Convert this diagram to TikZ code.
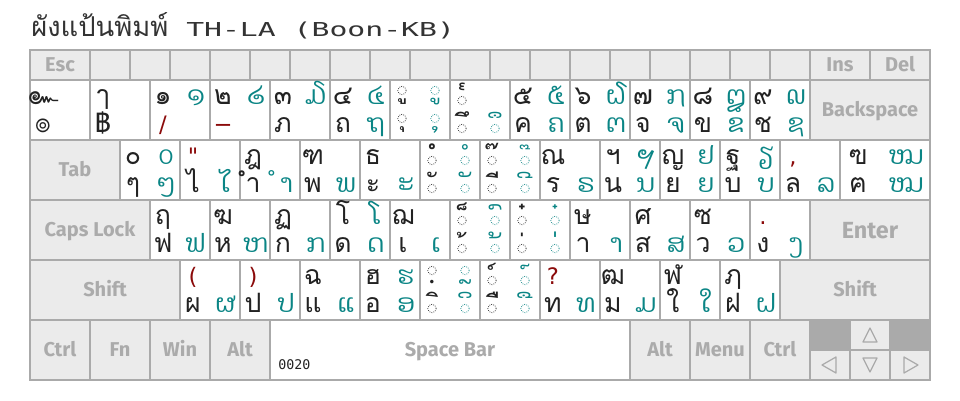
\documentclass[tikz,border=0pt]{standalone}
\usepackage{fontspec}
\setsansfont{Fira Sans}
\newfontfamily\thaifont[Script=Thai]{Loma}
\newfontfamily\laofont[Script=Lao]{Dhyana}
\newfontfamily\symfont{DejaVu Sans}
\newfontfamily\codefont{DejaVu Sans Mono}

\definecolor{keyline}{HTML}{AAAAAA}
\definecolor{keyfill}{HTML}{EBEBEB}
\definecolor{keytext}{HTML}{ABABAB}
\definecolor{inkc}{HTML}{222222}
\definecolor{titlec}{HTML}{333333}
\definecolor{laoteal}{HTML}{0A8585}
\definecolor{punc}{HTML}{8B0A0A}
\definecolor{laogreen}{HTML}{2E9A2E}
\definecolor{darkcell}{HTML}{AAAAAA}

% a combining mark in a box as wide as its ink, ink centred on the baseline
\newcommand\inkmark[1]{%
  \edef\markgid{\the\XeTeXcharglyph`#1}%
  \hbox to \dimexpr\fontcharwd\font`#1-\XeTeXglyphbounds3 \markgid\space-\XeTeXglyphbounds1 \markgid\space\relax{\kern\dimexpr 0pt-\XeTeXglyphbounds1 \markgid\space\relax\lower\dimexpr(\XeTeXglyphbounds2 \markgid\space-\XeTeXglyphbounds4 \markgid\space)/2\relax\hbox{#1}\hss}}
\newcommand\pun[1]{\textcolor{punc}{\symfont\fontsize{17}{17}\selectfont#1}}

% keys
\newcommand\bkey[2]{\draw[charkey] (#1,#2) rectangle ++(60,60);}
\newcommand\glyphat[5]{\if\relax\detokenize{#5}\relax\else\node[#4] (#1) at (#2,#3) {#5};\fi}
\newcommand\tkey[6]{%
  \bkey{#1}{#2}%
  \glyphat{k#1-#2tl}{#1+13}{#2+24}{th}{#3}%
  \glyphat{k#1-#2tr}{#1+46}{#2+24}{lo}{#4}%
  \glyphat{k#1-#2bl}{#1+13}{#2+52}{th}{#5}%
  \glyphat{k#1-#2br}{#1+46}{#2+52}{lo}{#6}}
\newcommand\fkey[6]{%
  \draw[fnkey] (#1,#2) rectangle ++(#3,#4);
  \node[flabel] (#6) at (#1+#3/2,#2+#4/2) {#5};}
% mark above / below a dotted circle
\newcommand\upmk[4]{%
  \node[#4] (m-#1-#2) at (#1,#2-17) {\inkmark{#3}};
  \draw[dotc,#4] (#1,#2-3.5) circle (4.2);}
\newcommand\dnmk[4]{%
  \draw[dotc,#4] (#1,#2-13.5) circle (4.2);
  \node[#4] (m-#1-#2) at (#1,#2-2) {\inkmark{#3}};}

\begin{document}
\begin{tikzpicture}[x=0.75pt,y=-0.75pt,
  fnkey/.style={draw=keyline,line width=1.5pt,fill=keyfill},
  charkey/.style={draw=keyline,line width=1.5pt,fill=white},
  flabel/.style={font=\sffamily\bfseries\fontsize{15}{15}\selectfont,text=keytext,
    text height=10.3pt,text depth=0pt,inner sep=0pt},
  th/.style={font=\thaifont\fontsize{20}{20}\selectfont,color=inkc,anchor=base,inner sep=0pt},
  lo/.style={font=\laofont\fontsize{19}{19}\selectfont,color=laoteal,anchor=base,inner sep=0pt},
  dotc/.style={densely dotted,line width=0.55pt},
  arrowtri/.style={draw=keyline,line width=0.9pt,line join=round}]
  \useasboundingbox (0,0) rectangle (960,400);

  % title
  \node[anchor=base west,inner sep=0pt,text=titlec] (title) at (31,36)
    {{\thaifont\fontsize{20.5}{20.5}\selectfont ผังแป้นพิมพ์}\scalebox{1.55}[1]{\codefont\fontsize{14.4}{14.4}\selectfont\space TH-LA (Boon-KB)}};

  % function row
  \fkey{30}{50}{60}{30}{Esc}{esc}
  \foreach \x in {90,130,...,770}
    \draw[fnkey] (\x,50) rectangle ++(40,30);
  \fkey{810}{50}{60}{30}{Ins}{ins}
  \fkey{870}{50}{60}{30}{Del}{del}

  % number row
  \tkey{30}{80}{๛}{}{๏}{}
  \tkey{90}{80}{ๅ}{}{฿}{}
  \tkey{150}{80}{๑}{໑}{\pun{/}}{}
  \tkey{210}{80}{๒}{໒}{\pun{−}}{}
  \tkey{270}{80}{๓}{໓}{ภ}{}
  \tkey{330}{80}{๔}{໔}{ถ}{ຖ}
  \bkey{390}{80}
  \dnmk{402}{104}{ู}{th} \dnmk{435}{104}{ູ}{lo}
  \dnmk{402}{132}{ุ}{th} \dnmk{435}{132}{ຸ}{lo}
  \bkey{450}{80}
  \upmk{462}{104}{๎}{th}
  \upmk{462}{132}{ึ}{th} \upmk{495}{132}{ຶ}{lo}
  \tkey{510}{80}{๕}{໕}{ค}{ຄ}
  \tkey{570}{80}{๖}{໖}{ต}{ຕ}
  \tkey{630}{80}{๗}{໗}{จ}{ຈ}
  \tkey{690}{80}{๘}{໘}{ข}{ຂ}
  \tkey{750}{80}{๙}{໙}{ช}{ຊ}
  \fkey{810}{80}{120}{60}{Backspace}{bksp}

  % top letter row
  \fkey{30}{140}{90}{60}{Tab}{tab}
  \tkey{120}{140}{๐}{໐}{ๆ}{ໆ}
  \tkey{180}{140}{\pun{"}}{}{ไ}{ໄ}
  \tkey{240}{140}{ฎ}{}{ำ}{ຳ}
  \tkey{300}{140}{ฑ}{}{พ}{ພ}
  \tkey{360}{140}{ธ}{}{ะ}{ະ}
  \bkey{420}{140}
  \upmk{432}{164}{ํ}{th} \upmk{465}{164}{ໍ}{lo}
  \upmk{432}{192}{ั}{th} \upmk{465}{192}{ັ}{lo}
  \bkey{480}{140}
  \upmk{492}{164}{๊}{th} \upmk{525}{164}{໊}{lo}
  \upmk{492}{192}{ี}{th} \upmk{525}{192}{ີ}{lo}
  \tkey{540}{140}{ณ}{\textcolor{laogreen}{ຓ}}{ร}{ຣ}
  \tkey{600}{140}{ฯ}{ຯ}{น}{ນ}
  \tkey{660}{140}{ญ}{ຢ}{ย}{ຍ}
  \tkey{720}{140}{ฐ}{ຽ}{บ}{ບ}
  \tkey{780}{140}{\pun{,}}{}{ล}{ລ}
  \draw[charkey] (840,140) rectangle ++(90,60);
  \node[th] (k840-140tl) at (858,164) {ฃ};
  \node[lo] (k840-140tr) at (907,164) {ໝ};
  \node[th] (k840-140bl) at (858,192) {ฅ};
  \node[lo] (k840-140br) at (907,192) {ໝ};

  % home row
  \fkey{30}{200}{120}{60}{Caps Lock}{caps}
  \tkey{150}{200}{ฤ}{}{ฟ}{ຟ}
  \tkey{210}{200}{ฆ}{}{ห}{ຫ}
  \tkey{270}{200}{ฏ}{}{ก}{ກ}
  \tkey{330}{200}{โ}{ໂ}{ด}{ດ}
  \tkey{390}{200}{ฌ}{}{เ}{ເ}
  \bkey{450}{200}
  \upmk{462}{224}{็}{th} \upmk{495}{224}{ົ}{lo}
  \upmk{462}{252}{้}{th} \upmk{495}{252}{້}{lo}
  \bkey{510}{200}
  \upmk{522}{224}{๋}{th} \upmk{555}{224}{໋}{lo}
  \upmk{522}{252}{่}{th} \upmk{555}{252}{່}{lo}
  \tkey{570}{200}{ษ}{}{า}{າ}
  \tkey{630}{200}{ศ}{}{ส}{ສ}
  \tkey{690}{200}{ซ}{}{ว}{ວ}
  \tkey{750}{200}{\pun{.}}{}{ง}{ງ}
  \draw[fnkey] (810,200) rectangle ++(120,60);
  \node[flabel,font=\sffamily\bfseries\fontsize{17.5}{17.5}\selectfont,text height=12pt] (enter) at (870,230) {Enter};

  % bottom letter row
  \fkey{30}{260}{150}{60}{Shift}{lshift}
  \tkey{180}{260}{\pun{(}}{}{ผ}{ຜ}
  \tkey{240}{260}{\pun{)}}{}{ป}{ປ}
  \tkey{300}{260}{ฉ}{}{แ}{ແ}
  \tkey{360}{260}{ฮ}{ຮ}{อ}{ອ}
  \bkey{420}{260}
  \dnmk{432}{284}{ฺ}{th} \dnmk{465}{284}{ຼ}{lo}
  \upmk{432}{312}{ิ}{th} \upmk{465}{312}{ິ}{lo}
  \bkey{480}{260}
  \upmk{492}{284}{์}{th} \upmk{525}{284}{໌}{lo}
  \upmk{492}{312}{ื}{th} \upmk{525}{312}{ື}{lo}
  \tkey{540}{260}{\pun{?}}{}{ท}{ທ}
  \tkey{600}{260}{ฒ}{}{ม}{ມ}
  \tkey{660}{260}{ฬ}{}{ใ}{ໃ}
  \tkey{720}{260}{ฦ}{}{ฝ}{ຝ}
  \fkey{780}{260}{150}{60}{Shift}{rshift}

  % space row
  \fkey{30}{320}{60}{60}{Ctrl}{lctrl}
  \fkey{90}{320}{60}{60}{Fn}{fn}
  \fkey{150}{320}{60}{60}{Win}{win}
  \fkey{210}{320}{60}{60}{Alt}{lalt}
  \draw[charkey] (270,320) rectangle ++(360,60);
  \node[flabel] (space) at (450,350) {Space Bar};
  \node[anchor=base west,inner sep=0pt,font=\codefont\fontsize{10}{10}\selectfont,text=inkc] (spcode) at (278,369) {0020};
  \fkey{630}{320}{60}{60}{Alt}{ralt}
  \fkey{690}{320}{60}{60}{Menu}{menu}
  \fkey{750}{320}{60}{60}{Ctrl}{rctrl}

  % arrow block
  \draw[fnkey,fill=darkcell] (810,320) rectangle ++(40,30);
  \draw[fnkey] (850,320) rectangle ++(40,30);
  \draw[fnkey,fill=darkcell] (890,320) rectangle ++(40,30);
  \foreach \x in {810,850,890}
    \draw[fnkey] (\x,350) rectangle ++(40,30);
  \draw[arrowtri] (863,342) -- (877,342) -- (870,328) -- cycle;
  \draw[arrowtri] (863,358) -- (877,358) -- (870,372) -- cycle;
  \draw[arrowtri] (836,357) -- (836,373) -- (822,365) -- cycle;
  \draw[arrowtri] (904,357) -- (904,373) -- (918,365) -- cycle;
\end{tikzpicture}
\end{document}
